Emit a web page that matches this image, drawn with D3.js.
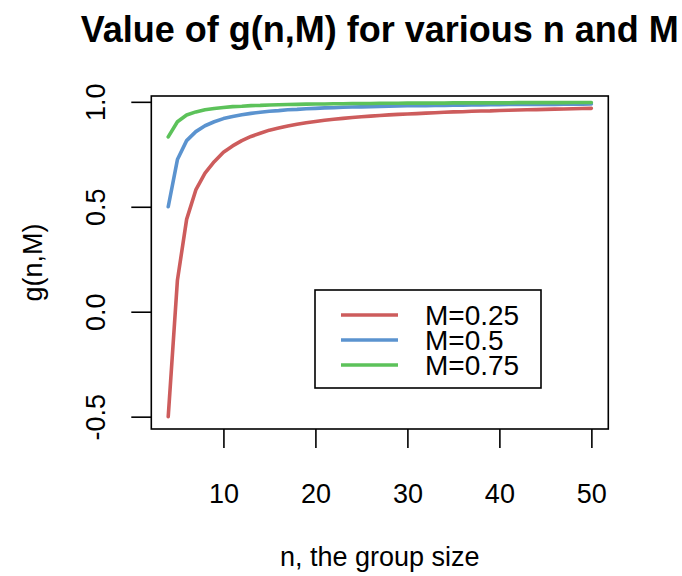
<!DOCTYPE html>
<html>
<head>
<meta charset="utf-8">
<script src="https://cdn.jsdelivr.net/npm/d3@7"></script>
<style>
  body { margin: 0; background: #fff; }
  text { font-family: "Liberation Sans", Arial, sans-serif; fill: #000; }
</style>
</head>
<body>
<script>
var W = 682, H = 576;

// group size n = 4..50
var nValues = [4,5,6,7,8,9,10,11,12,13,14,15,16,17,18,19,20,21,22,23,24,25,26,27,
               28,29,30,31,32,33,34,35,36,37,38,39,40,41,42,43,44,45,46,47,48,49,50];

// g(n,M)
var gM025 = [-0.50,0.15,0.44,0.58,0.66,0.715,0.76,0.79,0.815,0.835,0.85,0.865,0.875,0.885,
             0.893,0.90,0.906,0.912,0.917,0.921,0.925,0.929,0.932,0.935,0.938,0.940,0.942,
             0.944,0.946,0.948,0.950,0.952,0.953,0.955,0.956,0.957,0.959,0.960,0.961,0.962,
             0.963,0.964,0.965,0.966,0.967,0.968,0.969];
var gM050 = [0.50,0.725,0.815,0.858,0.886,0.905,0.92,0.93,0.938,0.945,0.95,0.955,0.958,0.962,
             0.964,0.967,0.969,0.971,0.972,0.974,0.975,0.976,0.977,0.978,0.979,0.98,0.981,
             0.981,0.982,0.983,0.983,0.984,0.984,0.985,0.985,0.986,0.986,0.987,0.987,0.987,
             0.988,0.988,0.988,0.989,0.989,0.989,0.990];
var gM075 = [0.833,0.905,0.937,0.952,0.962,0.968,0.973,0.977,0.979,0.982,0.983,0.985,0.986,
             0.987,0.988,0.989,0.990,0.990,0.991,0.991,0.992,0.992,0.992,0.993,0.993,0.993,
             0.994,0.994,0.994,0.994,0.994,0.995,0.995,0.995,0.995,0.995,0.995,0.995,0.996,
             0.996,0.996,0.996,0.996,0.996,0.997,0.997,0.997];

var seriesNames = ["M=0.25", "M=0.5", "M=0.75"];
var seriesColors = ["#cd5c5c", "#5b93cf", "#5cc25a"];
var xTicks = [10, 20, 30, 40, 50];
var yTicks = [-0.5, 0.0, 0.5, 1.0];
var yTickLabels = ["-0.5", "0.0", "0.5", "1.0"];

var series = [gM025, gM050, gM075];

var svg = d3.select("body").append("svg")
  .attr("width", W).attr("height", H);

// R style limits: data range + 4% each side (y from first series only)
var xr = d3.extent(nValues), xpad = (xr[1]-xr[0])*0.04;
var yr = d3.extent(gM025), ypad = (yr[1]-yr[0])*0.04;

var x = d3.scaleLinear().domain([xr[0]-xpad, xr[1]+xpad]).range([151.3, 608.3]);
var y = d3.scaleLinear().domain([yr[0]-ypad, yr[1]+ypad]).range([429, 96]);

// lines
var line = d3.line()
  .x(function(d, i) { return x(nValues[i]); })
  .y(function(d) { return y(d); });

svg.selectAll("path.series")
  .data(series)
  .enter()
  .append("path")
  .attr("class", "series")
  .attr("d", line)
  .attr("fill", "none")
  .attr("stroke", function(d, i) { return seriesColors[i]; })
  .attr("stroke-width", 3.6)
  .attr("stroke-linejoin", "round")
  .attr("stroke-linecap", "round");

// box
svg.append("rect")
  .attr("x", x.range()[0]).attr("y", y.range()[1])
  .attr("width", x.range()[1]-x.range()[0])
  .attr("height", y.range()[0]-y.range()[1])
  .attr("fill", "none").attr("stroke", "#000").attr("stroke-width", 1.6);

// x axis
var xAxis = svg.append("g").attr("transform", "translate(0," + y.range()[0] + ")")
  .call(d3.axisBottom(x).tickValues(xTicks).tickSize(19).tickPadding(9).tickFormat(d3.format("d")));
xAxis.select(".domain")
  .attr("d", "M" + x(xTicks[0]) + ",0H" + x(xTicks[xTicks.length-1]))
  .attr("stroke-width", 0);
xAxis.selectAll(".tick line").attr("stroke-width", 1.6);
xAxis.selectAll(".tick text").attr("font-size", 27).attr("font-family", "Liberation Sans, Arial, sans-serif")
  .attr("y", 74).attr("dy", 0);

// y axis
var yAxis = svg.append("g").attr("transform", "translate(" + x.range()[0] + ",0)")
  .call(d3.axisLeft(y).tickValues(yTicks).tickSize(20)
        .tickFormat(function(d, i) { return yTickLabels[i]; }));
yAxis.select(".domain").attr("stroke-width", 0);
yAxis.selectAll(".tick line").attr("stroke-width", 1.6);
yAxis.selectAll(".tick text")
  .attr("font-size", 27).attr("font-family", "Liberation Sans, Arial, sans-serif")
  .attr("x", null).attr("dy", null)
  .attr("text-anchor", "middle")
  .attr("transform", "translate(-46,0) rotate(-90)");

// titles
svg.append("text")
  .attr("x", (x.range()[0]+x.range()[1])/2).attr("y", 42)
  .attr("text-anchor", "middle")
  .attr("font-size", 36).attr("font-weight", "bold")
  .text("Value of g(n,M) for various n and M");

svg.append("text")
  .attr("x", (x.range()[0]+x.range()[1])/2).attr("y", 566)
  .attr("text-anchor", "middle")
  .attr("font-size", 27)
  .text("n, the group size");

svg.append("text")
  .attr("transform", "translate(42," + (y.range()[0]+y.range()[1])/2 + ") rotate(-90)")
  .attr("text-anchor", "middle")
  .attr("font-size", 27)
  .text("g(n,M)");

// legend
var legend = svg.append("g");
legend.append("rect")
  .attr("x", 315).attr("y", 290).attr("width", 226).attr("height", 98)
  .attr("fill", "#fff").attr("stroke", "#000").attr("stroke-width", 1.6);

var rows = legend.selectAll("g.row")
  .data(seriesNames)
  .enter()
  .append("g")
  .attr("transform", function(d, i) { return "translate(0," + (315 + i*25) + ")"; });

rows.append("line")
  .attr("x1", 341).attr("x2", 398)
  .attr("stroke", function(d, i) { return seriesColors[i]; })
  .attr("stroke-width", 3.6);

rows.append("text")
  .attr("x", 425).attr("dy", "0.36em")
  .attr("font-size", 28)
  .text(function(d) { return d; });
</script>
</body>
</html>
